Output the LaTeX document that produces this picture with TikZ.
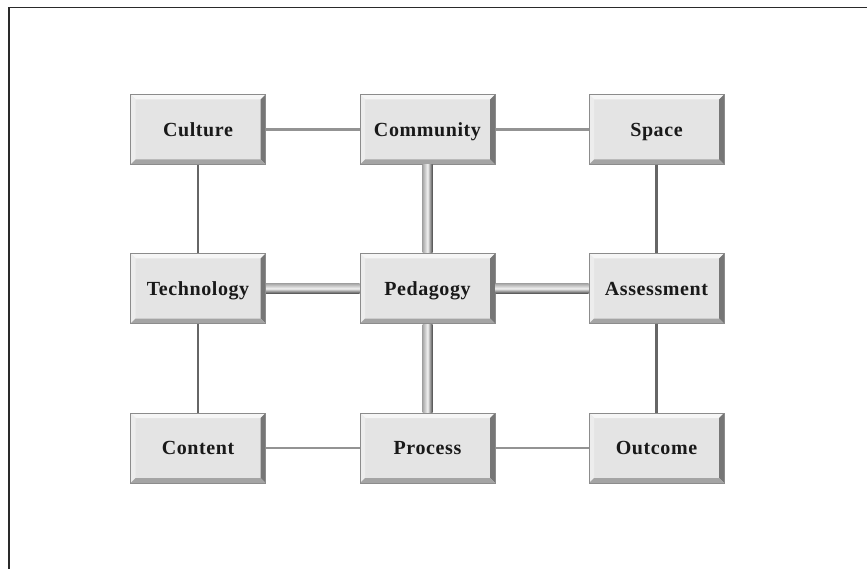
\documentclass[tikz,border=0pt]{standalone}
\usepackage{fontspec}
\setmainfont{Liberation Serif}[LetterSpace=3]
\definecolor{boxface}{HTML}{E4E4E4}
\definecolor{boxedge}{HTML}{8C8C8C}
\definecolor{bevtop}{HTML}{F6F6F6}
\definecolor{bevleft}{HTML}{EDEDED}
\definecolor{bevright}{HTML}{767676}
\definecolor{bevbottom}{HTML}{A4A4A4}
\definecolor{thinh}{HTML}{939393}
\definecolor{thinv}{HTML}{666666}
\definecolor{barlight}{HTML}{F2F2F2}
\definecolor{barsoft}{HTML}{A6A6A6}
\definecolor{bardark}{HTML}{4C4C4C}
\definecolor{frame}{HTML}{2A2A2A}
\tikzset{
  box/.style={draw=boxedge, line width=1pt, fill=boxface,
    minimum width=135pt, minimum height=70pt, inner sep=0pt,
    text height=13.5pt, text depth=0pt,
    font=\fontsize{20pt}{22pt}\selectfont\bfseries, text=black!90,
    path picture={
      \path (path picture bounding box.north west) coordinate (@nw)
            (path picture bounding box.north east) coordinate (@ne)
            (path picture bounding box.south west) coordinate (@sw)
            (path picture bounding box.south east) coordinate (@se);
      \fill[bevtop] (@nw) -- (@ne) -- ([shift={(-5pt,-5pt)}]@ne) -- ([shift={(5pt,-5pt)}]@nw) -- cycle;
      \fill[bevleft] (@nw) -- ([shift={(5pt,-5pt)}]@nw) -- ([shift={(5pt,5pt)}]@sw) -- (@sw) -- cycle;
      \fill[bevright] (@ne) -- (@se) -- ([shift={(-5pt,5pt)}]@se) -- ([shift={(-5pt,-5pt)}]@ne) -- cycle;
      \fill[bevbottom] (@sw) -- ([shift={(5pt,5pt)}]@sw) -- ([shift={(-5pt,5pt)}]@se) -- (@se) -- cycle;
    }},
  thinlinkh/.style={draw=thinh, line width=2.1pt},
  thinlinkv/.style={draw=thinv, line width=2.6pt},
  barv/.style={left color=barsoft, right color=bardark, middle color=barlight},
  barh/.style={top color=barsoft, bottom color=bardark, middle color=barlight},
}
\begin{document}
\begin{tikzpicture}[x=1pt,y=-1pt]
  \useasboundingbox (0,0) rectangle (867,569);
  \fill[white] (0,0) rectangle (867,569);
  % page frame, top and left edges
  \draw[frame, line width=1.3pt] (9,569) -- (9,7.5) -- (867,7.5);

  % the nine blocks
  \node[box] (cul) at (198,129.5) {Culture};
  \node[box] (com) at (427.5,129.5) {Community};
  \node[box] (spa) at (656.5,129.5) {Space};
  \node[box] (tec) at (198,288.5) {Technology};
  \node[box] (ped) at (427.5,288.5) {Pedagogy};
  \node[box] (ass) at (656.5,288.5) {Assessment};
  \node[box] (con) at (198,448) {Content};
  \node[box] (pro) at (427.5,448) {Process};
  \node[box] (out) at (656.5,448) {Outcome};

  % plain links
  \draw[thinlinkh] (cul.east) -- (com.west);
  \draw[thinlinkh] (com.east) -- (spa.west);
  \draw[thinlinkh] (con.east) -- (pro.west);
  \draw[thinlinkh] (pro.east) -- (out.west);
  \draw[thinlinkv] (cul.south) -- (tec.north);
  \draw[thinlinkv] (tec.south) -- (con.north);
  \draw[thinlinkv] (spa.south) -- (ass.north);
  \draw[thinlinkv] (ass.south) -- (out.north);

  % heavy links around the centre block
  \shade[barv] ([xshift=-5pt]com.south) rectangle ([xshift=5pt]ped.north);
  \shade[barv] ([xshift=-5pt]ped.south) rectangle ([xshift=5pt]pro.north);
  \shade[barh] ([yshift=5pt]tec.east) rectangle ([yshift=-5pt]ped.west);
  \shade[barh] ([yshift=5pt]ped.east) rectangle ([yshift=-5pt]ass.west);
\end{tikzpicture}
\end{document}
